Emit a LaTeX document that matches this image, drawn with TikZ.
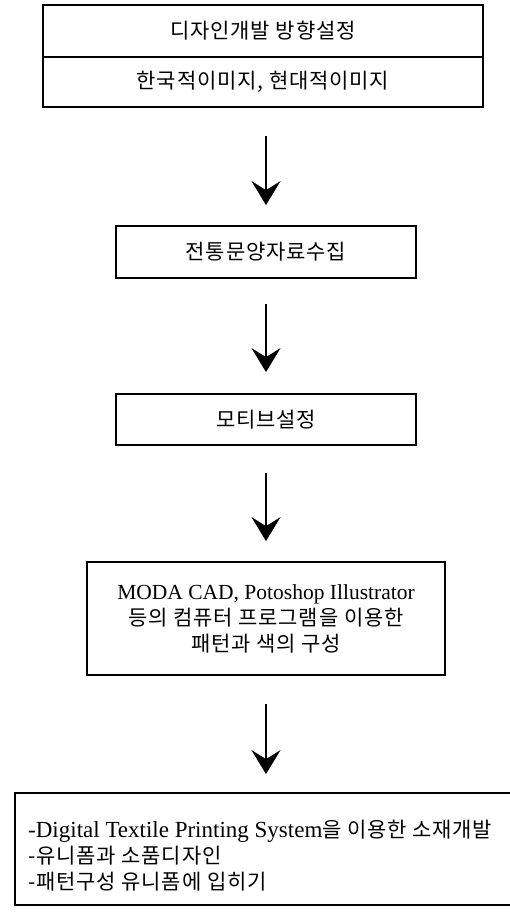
\documentclass[tikz,border=0pt]{standalone}
\usepackage{fontspec}
\setmainfont{Liberation Serif}
\newfontfamily\kr{Noto Sans CJK KR}[LetterSpace=4]
\usetikzlibrary{arrows.meta}
\tikzset{
  box/.style={draw, line width=1.8pt, rectangle, inner sep=0pt, align=center,
    font=\fontsize{21}{26}\selectfont},
  txt/.style={inner sep=0pt, align=left, font=\fontsize{21}{26}\selectfont},
  flow/.style={line width=1.6pt, -{Stealth[length=24pt,width=29pt,inset=9pt]}},
}
\begin{document}
\begin{tikzpicture}[x=1pt,y=-1pt]
\useasboundingbox (0,0) rectangle (510,915);
\fill[white] (0,0) rectangle (510,915);
% top box (two parts)
\node[box, minimum width=440pt, minimum height=52pt] (t1) at (263,31) {\kr 디자인개발 방향설정};
\node[box, minimum width=440pt, minimum height=50pt] (t2) at (263,82) {\kr 한국적이미지, 현대적이미지};
% box 2
\node[box, minimum width=300pt, minimum height=52pt] (b2) at (266,252) {\kr 전통문양자료수집};
% box 3
\node[box, minimum width=300pt, minimum height=51pt] (b3) at (266,419.5) {\kr 모티브설정};
% box 4
\node[box, minimum width=358pt, minimum height=113pt] (b4) at (266,618.5)
  {{\fontsize{21.5}{26}\selectfont MODA CAD, Potoshop Illustrator}\\[0pt]
   {\kr 등의 컴퓨터 프로그램을 이용한}\\[0pt]
   {\kr 패턴과 색의 구성}};
% box 5
\node[box, minimum width=500pt, minimum height=112pt] (b5) at (265,849) {};
\node[txt, anchor=west] (b5t) at (28,856)
  {{\fontsize{23}{27}\selectfont -Digital Textile Printing System}{\kr 을 이용한 소재개발}\\[0pt]
   {\kr -유니폼과 소품디자인}\\[0pt]
   {\kr -패턴구성 유니폼에 입히기}};
% arrows
\draw[flow, shorten <=28pt, shorten >=20pt] (b2.north |- t2.south) -- (b2.north);
\draw[flow, shorten <=25pt, shorten >=21pt] (b2.south) -- (b3.north);
\draw[flow, shorten <=27pt, shorten >=20pt] (b3.south) -- (b4.north);
\draw[flow, shorten <=28pt, shorten >=18pt] (b4.south) -- (b4.south |- b5.north);
\end{tikzpicture}
\end{document}
